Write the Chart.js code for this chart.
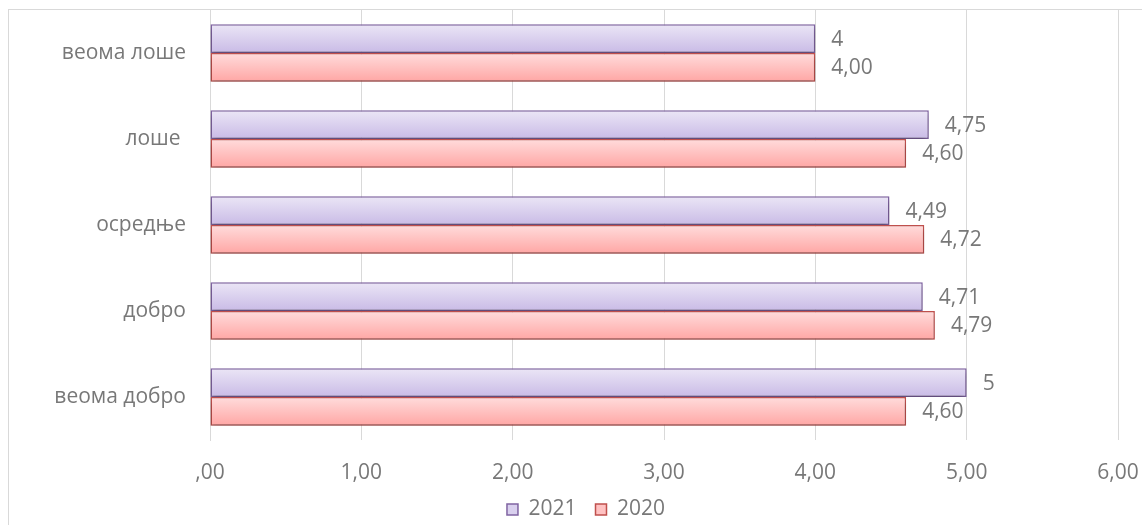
<!DOCTYPE html>
<html>
<head>
<meta charset="utf-8">
<script src="https://cdn.jsdelivr.net/npm/chart.js@4"></script>
<style>
  html, body { margin: 0; padding: 0; background: #fff; overflow: hidden; }
  #frame { position: absolute; left: 8px; top: 9px; width: 1160px; height: 540px; border: 1px solid #d9d9d9; }
  #wrap { position: absolute; left: 0; top: 0; width: 1142px; height: 525px; }
</style>
</head>
<body>
<div id="frame"></div>
<div id="wrap"><canvas id="chart" width="1142" height="525"></canvas></div>
<script>
const categories = ['веома лоше', 'лоше ', 'осредње', 'добро', 'веома добро'];
const values2021 = [4, 4.75, 4.49, 4.71, 5];
const values2020 = [4.00, 4.60, 4.72, 4.79, 4.60];
const labels2021 = ['4', '4,75', '4,49', '4,71', '5'];
const labels2020 = ['4,00', '4,60', '4,72', '4,79', '4,60'];
const xTicks = [',00', '1,00', '2,00', '3,00', '4,00', '5,00', '6,00'];

const FONT = '"Open Sans", sans-serif';
const TEXT = '#787878';
const CAT_PCT = 0.67;

// vertical gradient per bar, computed from the category scale
function barGradient(top, bottom, first) {
    return (c) => {
        const chart = c.chart;
        const y = chart.scales.y;
        if (!y || c.dataIndex === undefined) return bottom;
        const center = y.getPixelForValue(c.dataIndex);
        const band = Math.abs(y.getPixelForValue(1) - y.getPixelForValue(0)) * CAT_PCT / 2;
        const y0 = first ? center - band : center;
        const g = chart.ctx.createLinearGradient(0, y0, 0, y0 + band);
        g.addColorStop(0, top);
        g.addColorStop(1, bottom);
        return g;
    };
}

const shadowPlugin = {
    id: 'shadow',
    beforeDatasetsDraw(chart) {
        const ctx = chart.ctx;
        ctx.save();
        ctx.shadowColor = 'rgba(0,0,0,0.3)';
        ctx.shadowBlur = 5;
        ctx.shadowOffsetY = 3;
    },
    afterDatasetsDraw(chart) {
        chart.ctx.restore();
    }
};

const valueLabels = {
    id: 'valueLabels',
    afterDatasetsDraw(chart) {
        const ctx = chart.ctx;
        const texts = [labels2021, labels2020];
        ctx.save();
        ctx.font = '21px ' + FONT;
        ctx.fillStyle = TEXT;
        ctx.textAlign = 'left';
        ctx.textBaseline = 'middle';
        chart.data.datasets.forEach((ds, i) => {
            chart.getDatasetMeta(i).data.forEach((el, j) => {
                ctx.fillText(texts[i][j], el.x + 16, el.y + 1);
            });
        });
        ctx.restore();
    }
};

// fixed legend height and a small shift, like the original
const legendFix = {
    id: 'legendFix',
    beforeLayout(chart) {
        const lg = chart.legend;
        if (lg && !lg._patched) {
            const fit = lg.fit;
            lg.fit = function () { fit.call(this); this.height = 37; };
            lg._patched = true;
        }
    },
    afterLayout(chart) {
        const lg = chart.legend;
        lg.left += 27;
        lg.right += 27;
        lg.top -= 8;
        lg.bottom -= 8;
    }
};

new Chart(document.getElementById('chart'), {
    type: 'bar',
    data: {
        labels: categories,
        datasets: [
            {
                label: '2021',
                data: values2021,
                backgroundColor: barGradient('#ebe6f6', '#c9bbe6', true),
                borderColor: '#8064a2',
                borderWidth: 1.5,
                borderSkipped: false,
                categoryPercentage: CAT_PCT,
                barPercentage: 1
            },
            {
                label: '2020',
                data: values2020,
                backgroundColor: barGradient('#ffdcdc', '#ffa6a4', false),
                borderColor: '#c0504d',
                borderWidth: 1.5,
                borderSkipped: false,
                categoryPercentage: CAT_PCT,
                barPercentage: 1
            }
        ]
    },
    options: {
        indexAxis: 'y',
        responsive: false,
        animation: false,
        layout: { padding: { top: 10, right: 24, bottom: 0, left: 0 } },
        scales: {
            x: {
                min: 0,
                max: 6,
                ticks: {
                    stepSize: 1,
                    padding: 20,
                    color: TEXT,
                    font: { family: FONT, size: 21 },
                    callback: (v, i) => xTicks[i]
                },
                grid: { color: '#d9d9d9', drawTicks: false },
                border: { display: false },
                afterFit: (s) => { s.height = 48; s.paddingLeft = 0; s.paddingRight = 0; }
            },
            y: {
                ticks: {
                    padding: 24,
                    color: TEXT,
                    font: { family: FONT, size: 21 }
                },
                grid: { display: false, drawTicks: false },
                border: { display: true, color: '#d9d9d9', width: 1 },
                afterFit: (s) => { s.width = 210; s.paddingTop = 0; s.paddingBottom = 0; }
            }
        },
        plugins: {
            legend: {
                position: 'bottom',
                labels: {
                    boxWidth: 11,
                    boxHeight: 11,
                    padding: 19,
                    color: TEXT,
                    font: { family: FONT, size: 21 },
                    generateLabels: (chart) => [
                        { text: '2021', fillStyle: '#d9d0ee', strokeStyle: '#8064a2', lineWidth: 1.5, fontColor: TEXT, datasetIndex: 0 },
                        { text: '2020', fillStyle: '#ffc2c2', strokeStyle: '#c0504d', lineWidth: 1.5, fontColor: TEXT, datasetIndex: 1 }
                    ]
                }
            },
            tooltip: { enabled: false }
        }
    },
    plugins: [shadowPlugin, valueLabels, legendFix]
});
</script>
</body>
</html>
